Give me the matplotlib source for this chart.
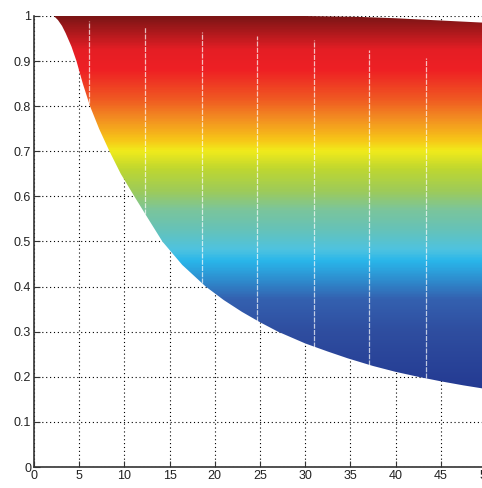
import numpy as np
import matplotlib
matplotlib.use("Agg")
import matplotlib.pyplot as plt
from matplotlib.colors import LinearSegmentedColormap

# lower edge of the shaded family of curves
lower_x = [0, 2.2, 2.65, 3.1, 3.5, 4.15, 4.7, 5.4, 6.2, 7.2, 8.35, 9.6, 11.1,
           12.8, 14.2, 16.4, 19.0, 21.0, 23.0, 25.0, 27.0, 30.0, 32.5, 34.7,
           37.5, 40.0, 42.5, 45.0, 47.5, 50]
lower_y = [1.0, 1.0, 0.991, 0.978, 0.962, 0.932, 0.9, 0.85, 0.8, 0.75, 0.7,
           0.65, 0.6, 0.545, 0.5, 0.448, 0.4, 0.37, 0.344, 0.321, 0.3, 0.274,
           0.256, 0.241, 0.224, 0.211, 0.2, 0.19, 0.181, 0.173]
# upper edge
upper_x = [0, 30, 36, 40, 45, 50]
upper_y = [1.0, 1.0, 0.998, 0.995, 0.99, 0.985]

# colour stops along y
stop_y = [0.17, 0.30, 0.37, 0.415, 0.455, 0.48, 0.525, 0.57, 0.61, 0.66,
          0.70, 0.725, 0.77, 0.814, 0.88, 0.925, 1.0]
stop_c = ["#243a92", "#2f4ea0", "#3461b0", "#2e8fd0", "#29b6ea", "#4ec3e0",
          "#66c2b8", "#7cc59a", "#9dcb5a", "#bfd730", "#f1eb1b", "#f7c518",
          "#f39021", "#f05a22", "#ee2024", "#e51e25", "#7a1515"]

# faint white separators
sep_x = [6.1, 12.3, 18.6, 24.7, 31.0, 37.1, 43.4]
sep_top = [0.99, 0.976, 0.965, 0.956, 0.947, 0.925, 0.907]

y0, y1 = stop_y[0], stop_y[-1]
cmap = LinearSegmentedColormap.from_list(
    "bands", [((v - y0) / (y1 - y0), c) for v, c in zip(stop_y, stop_c)])

fig = plt.figure(figsize=(4.82, 4.88), dpi=100)
ax = fig.add_axes([34 / 482, 21 / 488, 452 / 482, 451 / 488])

# region between the two edges, used as a clip for the y-gradient
shape = ax.fill(lower_x + upper_x[::-1], lower_y + upper_y[::-1],
                facecolor="none", edgecolor="none")[0]

grad = np.linspace(y0, y1, 400).reshape(-1, 1)
im = ax.imshow(grad, extent=[0, 50, y0, y1], origin="lower", aspect="auto",
               cmap=cmap, vmin=y0, vmax=y1, interpolation="bilinear",
               zorder=1)
im.set_clip_path(shape)

bottoms = np.interp(sep_x, lower_x, lower_y)
ax.vlines(sep_x, bottoms, sep_top, colors="white", linewidth=0.9, alpha=0.7,
          linestyles=(0, (4, 1)), zorder=2)

ax.set_xlim(0, 50)
ax.set_ylim(0, 1)
ax.set_xticks(np.arange(0, 51, 5))
ax.set_yticks(np.arange(0, 1.01, 0.1))
ax.set_xticklabels([f"{v:g}" for v in np.arange(0, 51, 5)])
ax.set_yticklabels([f"{v:g}" for v in np.round(np.arange(0, 1.01, 0.1), 1)])

ax.grid(True, color="black", linestyle=(0, (1, 2.5)), linewidth=0.8)
ax.set_axisbelow(True)
for s in ("top", "right"):
    ax.spines[s].set_visible(False)
for s in ("left", "bottom"):
    ax.spines[s].set_linewidth(1.2)
    ax.spines[s].set_color("#333333")
ax.tick_params(direction="in", length=4, width=0.8, colors="#333333",
               labelsize=9, pad=2)
for lab in ax.get_xticklabels() + ax.get_yticklabels():
    lab.set_family("Liberation Sans")
    lab.set_color("#222222")

fig.savefig("out.png", dpi=100)
